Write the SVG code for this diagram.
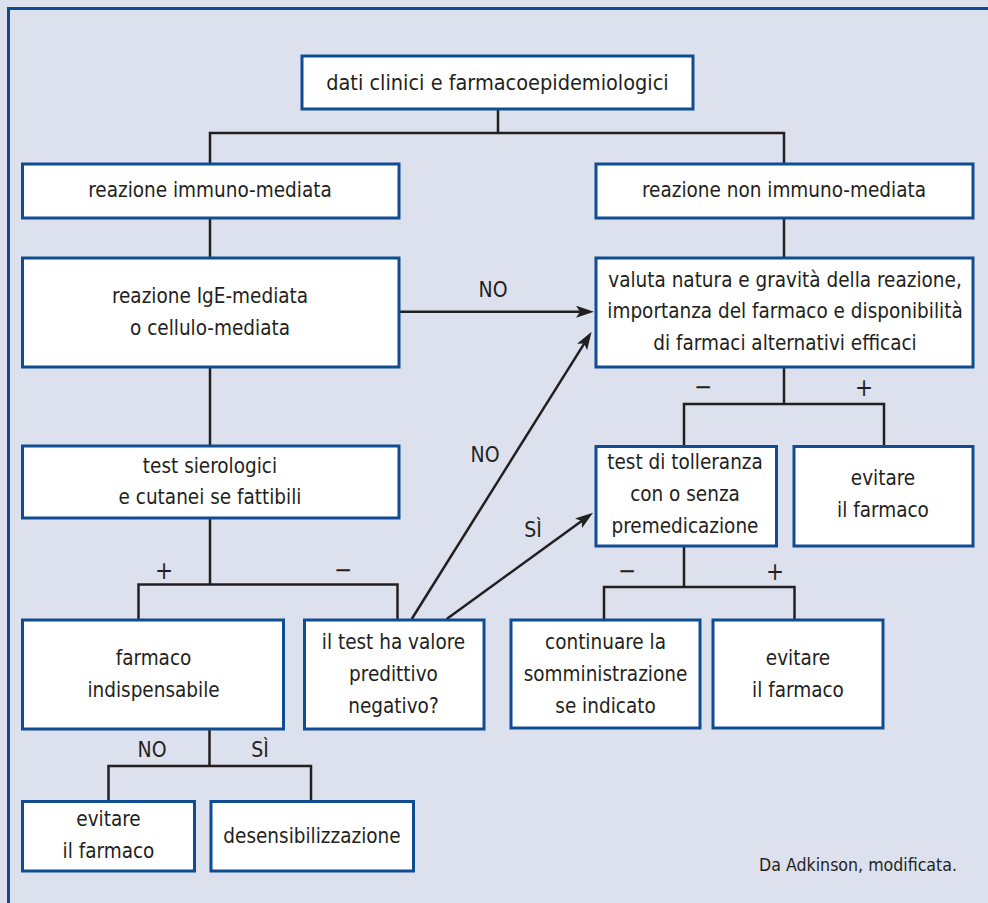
<svg xmlns="http://www.w3.org/2000/svg" width="988" height="903" viewBox="0 0 988 903">
<defs>
<style>
.bg{fill:#dde1ed}
.frame{fill:none;stroke:#0e4a8e;stroke-width:3}
.box{fill:#ffffff;stroke:#0f4c92;stroke-width:3}
.t{font-family:"DejaVu Sans Condensed","Liberation Sans",Arial,sans-serif;font-stretch:condensed;font-size:20.5px;fill:#231f20;text-anchor:middle}
.lbl{font-family:"DejaVu Sans Condensed","Liberation Sans",Arial,sans-serif;font-stretch:condensed;font-size:21px;fill:#231f20;text-anchor:middle}
.pm{font-family:"DejaVu Sans Condensed","Liberation Sans",Arial,sans-serif;font-size:24px;fill:#231f20;text-anchor:middle}
.note{font-family:"DejaVu Sans Condensed","Liberation Sans",Arial,sans-serif;font-stretch:condensed;font-size:17.6px;fill:#231f20;text-anchor:end}
.c{fill:none;stroke:#231f20;stroke-width:2.5}
</style>
<marker id="ah" markerUnits="userSpaceOnUse" viewBox="0 0 18 12" markerWidth="18" markerHeight="12" refX="12" refY="6" orient="auto">
<path d="M0,0 L18,6 L0,12 L4,6 Z" fill="#231f20"/>
</marker>
</defs>
<rect class="bg" x="0" y="0" width="988" height="903"/>
<rect class="frame" x="8.5" y="8.5" width="1000" height="920"/>

<g id="connectors">
<polyline class="c" points="498,109 498,133"/>
<polyline class="c" points="210,164 210,133 784,133 784,164"/>
<polyline class="c" points="210,218 210,258"/>
<polyline class="c" points="784,218 784,258"/>
<polyline class="c" points="210,367 210,446"/>
<polyline class="c" points="210,518 210,584.5"/>
<polyline class="c" points="138.5,620 138.5,584.5 397.5,584.5 397.5,620"/>
<polyline class="c" points="784,367 784,404"/>
<polyline class="c" points="684,446.5 684,404 884,404 884,446.5"/>
<polyline class="c" points="684,546 684,587"/>
<polyline class="c" points="604,620 604,587 794.5,587 794.5,620"/>
<polyline class="c" points="209.5,729 209.5,766"/>
<polyline class="c" points="108.5,801.5 108.5,766 311,766 311,801.5"/>
<line class="c" x1="399" y1="311.7" x2="588" y2="311.7" marker-end="url(#ah)"/>
<line class="c" x1="411.7" y1="619" x2="588.4" y2="336.8" marker-end="url(#ah)"/>
<line class="c" x1="446.7" y1="619" x2="588.2" y2="516.2" marker-end="url(#ah)"/>
<text class="lbl" x="493" y="297">NO</text>
<text class="lbl" x="485" y="462">NO</text>
<text class="lbl" x="533" y="537">SÌ</text>
<text class="pm" x="164" y="579">+</text>
<text class="pm" x="343" y="578">−</text>
<text class="pm" x="703" y="395">−</text>
<text class="pm" x="864" y="396">+</text>
<text class="pm" x="627" y="579">−</text>
<text class="pm" x="775" y="580">+</text>
<text class="lbl" x="152" y="757">NO</text>
<text class="lbl" x="260" y="757">SÌ</text>
</g>

<g id="n-dati">
<rect class="box" x="302" y="56" width="391" height="53"/>
<text class="t" x="497.5" y="90" style="font-size:21.5px">dati clinici e farmacoepidemiologici</text>
</g>
<g id="n-immuno">
<rect class="box" x="22.5" y="164" width="376.5" height="54"/>
<text class="t" x="210" y="197">reazione immuno-mediata</text>
</g>
<g id="n-nonimmuno">
<rect class="box" x="596" y="164" width="377" height="54"/>
<text class="t" x="784" y="197">reazione non immuno-mediata</text>
</g>
<g id="n-ige">
<rect class="box" x="22.5" y="258" width="376.5" height="109"/>
<text class="t" x="210" y="303">reazione IgE-mediata</text>
<text class="t" x="210" y="335">o cellulo-mediata</text>
</g>
<g id="n-valuta">
<rect class="box" x="596" y="258" width="377" height="109"/>
<text class="t" x="785" y="287">valuta natura e gravità della reazione,</text>
<text class="t" x="785" y="318">importanza del farmaco e disponibilità</text>
<text class="t" x="785" y="350">di farmaci alternativi efficaci</text>
</g>
<g id="n-test">
<rect class="box" x="22.5" y="446" width="376.5" height="72"/>
<text class="t" x="210" y="473">test sierologici</text>
<text class="t" x="210" y="504">e cutanei se fattibili</text>
</g>
<g id="n-tolleranza">
<rect class="box" x="596" y="446.5" width="180.5" height="99.5"/>
<text class="t" x="685" y="469">test di tolleranza</text>
<text class="t" x="685" y="501">con o senza</text>
<text class="t" x="685" y="533">premedicazione</text>
</g>
<g id="n-evitare1">
<rect class="box" x="794" y="446.5" width="179" height="99.5"/>
<text class="t" x="883" y="485">evitare</text>
<text class="t" x="883" y="517">il farmaco</text>
</g>
<g id="n-indispensabile">
<rect class="box" x="22.5" y="620" width="261" height="109"/>
<text class="t" x="153.5" y="665">farmaco</text>
<text class="t" x="153.5" y="697">indispensabile</text>
</g>
<g id="n-predittivo">
<rect class="box" x="304.5" y="620" width="179.5" height="109"/>
<text class="t" x="393.5" y="649">il test ha valore</text>
<text class="t" x="393.5" y="681">predittivo</text>
<text class="t" x="393.5" y="713">negativo?</text>
</g>
<g id="n-continuare">
<rect class="box" x="511" y="620" width="189" height="108"/>
<text class="t" x="605.5" y="649">continuare la</text>
<text class="t" x="605.5" y="681">somministrazione</text>
<text class="t" x="605.5" y="713">se indicato</text>
</g>
<g id="n-evitare2">
<rect class="box" x="713" y="620" width="170" height="108"/>
<text class="t" x="798" y="665">evitare</text>
<text class="t" x="798" y="697">il farmaco</text>
</g>
<g id="n-evitare3">
<rect class="box" x="22.5" y="801.5" width="172" height="69.5"/>
<text class="t" x="108.5" y="826">evitare</text>
<text class="t" x="108.5" y="858">il farmaco</text>
</g>
<g id="n-desens">
<rect class="box" x="211" y="801.5" width="202.5" height="69.5"/>
<text class="t" x="312" y="843">desensibilizzazione</text>
</g>
<text class="note" x="957" y="871">Da Adkinson, modificata.</text>
</svg>
